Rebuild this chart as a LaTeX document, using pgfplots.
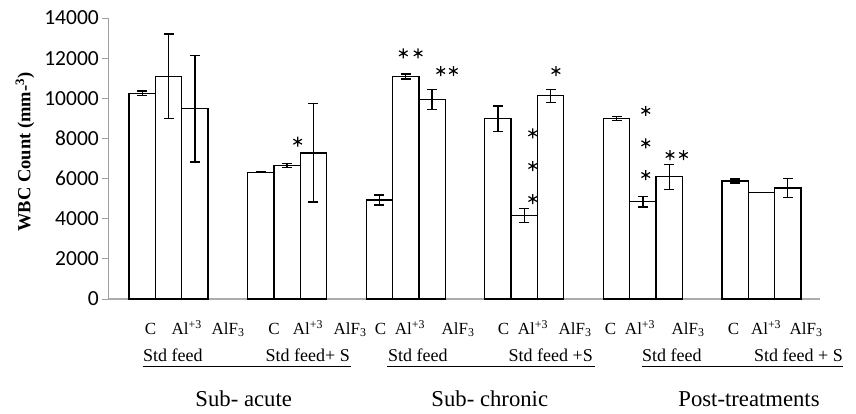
\documentclass[border=0pt]{standalone}
\usepackage{fontspec}
\setmainfont{Liberation Serif}
\newfontfamily\calib{Carlito}
\usepackage{pgfplots}
\pgfplotsset{compat=1.18}
\begin{document}
\begin{tikzpicture}
\useasboundingbox (-108pt,-114pt) rectangle (748pt,299pt);
\begin{axis}[
  at={(0pt,0pt)}, anchor=south west,
  scale only axis, width=712pt, height=281pt,
  xmin=-2.297, xmax=24.721, ymin=0, ymax=14000,
  axis lines=left, axis line style={-},
  x axis line style={draw=gray!65, line width=1.6pt},
  y axis line style={draw=gray!75, line width=0.8pt},
  ytick={0,2000,4000,6000,8000,10000,12000,14000},
  yticklabels={0,2000,4000,6000,8000,10000,12000,14000},
  scaled y ticks=false,
  tick align=outside, major tick length=6pt,
  ytick style={draw=gray!75, line width=0.8pt},
  yticklabel style={font=\calib\fontsize{21.5}{21.5}\selectfont, anchor=east, inner sep=0pt, xshift=-3pt},
  xtick={-0.684,0.690,2.257, 4.003,5.293,6.887, 8.045,9.164,10.986, 12.712,13.832,15.426, 16.773,17.893,19.715, 21.441,22.675,24.193},
  xticklabels={C,Al\textsuperscript{+3},AlF\textsubscript{3},C,Al\textsuperscript{+3},AlF\textsubscript{3},C,Al\textsuperscript{+3},AlF\textsubscript{3},C,Al\textsuperscript{+3},AlF\textsubscript{3},C,Al\textsuperscript{+3},AlF\textsubscript{3},C,Al\textsuperscript{+3},AlF\textsubscript{3}},
  xtick style={draw=none},
  xticklabel style={font=\fontsize{17}{17}\selectfont, anchor=base, inner sep=0pt, yshift=-29.3pt},
  ylabel={WBC Count (mm-\textsuperscript{3})},
  ylabel style={font=\bfseries\fontsize{18.5}{18.5}\selectfont, at={(axis description cs:-0.1166,0.523)}, anchor=center},
  clip=false,
]
% C
\addplot[ybar, bar width=1, bar shift=0pt, fill=white, draw=black, line width=1.3pt,
  error bars/.cd, y dir=both, y explicit,
  error bar style={line width=1.3pt, black},
  error mark options={rotate=90, mark size=5pt, line width=1.3pt, black}]
  coordinates {(-1,10250) +- (0,120) (3.5,6320) +- (0,30) (8,4930) +- (0,250)
               (12.5,8980) +- (0,640) (17,8980) +- (0,100) (21.5,5880) +- (0,100)};
% Al+3
\addplot[ybar, bar width=1, bar shift=0pt, fill=white, draw=black, line width=1.3pt,
  error bars/.cd, y dir=both, y explicit,
  error bar style={line width=1.3pt, black},
  error mark options={rotate=90, mark size=5pt, line width=1.3pt, black}]
  coordinates {(0,11100) +- (0,2100) (4.5,6650) +- (0,90) (9,11080) +- (0,125)
               (13.5,4170) +- (0,356) (18,4850) +- (0,267) (22.5,5300) +- (0,0)};
% AlF3
\addplot[ybar, bar width=1, bar shift=0pt, fill=white, draw=black, line width=1.3pt,
  error bars/.cd, y dir=both, y explicit,
  error bar style={line width=1.3pt, black},
  error mark options={rotate=90, mark size=5pt, line width=1.3pt, black}]
  coordinates {(1,9480) +- (0,2650) (5.5,7280) +- (0,2450) (10,9950) +- (0,500)
               (14.5,10130) +- (0,324) (19,6093) +- (0,623) (23.5,5530) +- (0,490)};
% significance stars
\addplot[only marks, mark=asterisk, mark size=5pt, mark options={line width=1.2pt, black}]
  coordinates {(4.90,7837) (8.91,12241) (9.47,12241) (10.33,11359) (10.81,11359)
               (14.70,11359) (13.82,8255) (13.82,6626) (13.82,4982)
               (18.11,9376) (18.11,7757) (18.11,6176) (19.03,7174) (19.54,7174)};
\end{axis}
\begin{scope}[font=\fontsize{18}{18}\selectfont]
\node[anchor=base west, inner sep=0pt] at (35pt,-62.7pt) {Std feed};
\node[anchor=base east, inner sep=0pt] at (242pt,-62.7pt) {Std feed+ S};
\draw[line width=0.9pt] (34.7pt,-67.5pt) -- (242.7pt,-67.5pt);
\node[anchor=base west, inner sep=0pt] at (280pt,-62.7pt) {Std feed};
\node[anchor=base east, inner sep=0pt] at (485pt,-62.7pt) {Std feed +S};
\draw[line width=0.9pt] (279pt,-67.5pt) -- (487pt,-67.5pt);
\node[anchor=base west, inner sep=0pt] at (534pt,-62.7pt) {Std feed};
\node[anchor=base east, inner sep=0pt] at (735pt,-62.7pt) {Std feed + S};
\draw[line width=0.9pt] (533.7pt,-67.5pt) -- (735pt,-67.5pt);
\end{scope}
\begin{scope}[font=\fontsize{22.7}{22.7}\selectfont]
\node[anchor=base, inner sep=0pt] at (135.7pt,-107.7pt) {Sub- acute};
\node[anchor=base, inner sep=0pt] at (381.8pt,-107.7pt) {Sub- chronic};
\node[anchor=base, inner sep=0pt] at (641pt,-107.7pt) {Post-treatments};
\end{scope}
\end{tikzpicture}
\end{document}
